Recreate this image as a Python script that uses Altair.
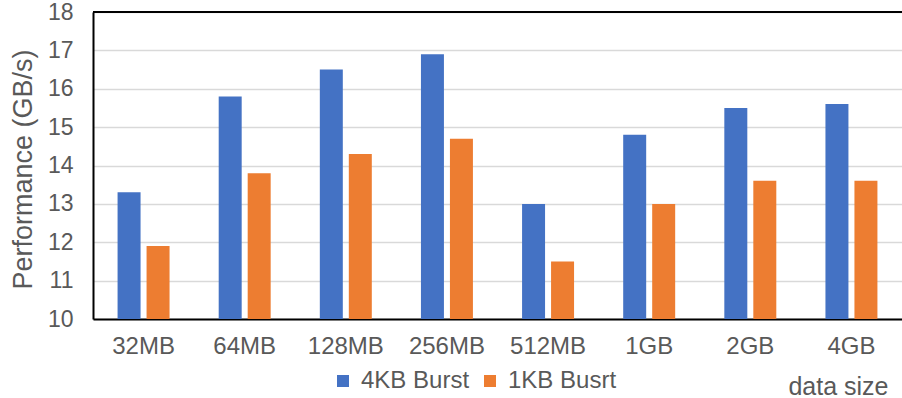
import altair as alt
import pandas as pd

# Throughput per data size for the two burst lengths
sizes = ["32MB", "64MB", "128MB", "256MB", "512MB", "1GB", "2GB", "4GB"]
burst_4kb = [13.3, 15.8, 16.5, 16.9, 13.0, 14.8, 15.5, 15.6]
burst_1kb = [11.9, 13.8, 14.3, 14.7, 11.5, 13.0, 13.6, 13.6]
series = ["4KB Burst", "1KB Busrt"]
colors = ["#4472C4", "#ED7D31"]
y_domain = [10, 18]

rows = []
for s, a, b in zip(sizes, burst_4kb, burst_1kb):
    rows.append({"size": s, "series": series[0], "value": a, "base": y_domain[0]})
    rows.append({"size": s, "series": series[1], "value": b, "base": y_domain[0]})
df = pd.DataFrame(rows)

FONT = "Liberation Sans"
GREY = "#595959"
y_scale = alt.Scale(domain=y_domain, nice=False, zero=False)

bars = alt.Chart(df).mark_bar().encode(
    x=alt.X(
        "size:N",
        sort=sizes,
        scale=alt.Scale(paddingInner=0.486, paddingOuter=0.243),
        axis=alt.Axis(
            title="data size",
            titleX=795,
            titleY=75,
            titleAlign="right",
            titleBaseline="alphabetic",
            titleFontSize=25,
            titleFontWeight="normal",
            titleColor=GREY,
            labelAngle=0,
            labelFontSize=24,
            labelColor=GREY,
            labelPadding=15,
            labelOverlap=False,
            ticks=False,
            domainColor="black",
            domainWidth=2,
        ),
    ),
    xOffset=alt.XOffset(
        "series:N",
        sort=series,
        scale=alt.Scale(paddingInner=0.207, paddingOuter=0),
    ),
    y=alt.Y(
        "value:Q",
        scale=y_scale,
        axis=alt.Axis(
            title="Performance (GB/s)",
            titleAngle=-90,
            titleX=-62,
            titleY=157,
            titleAlign="center",
            titleBaseline="alphabetic",
            titleFontSize=27,
            titleFontWeight="normal",
            titleColor=GREY,
            values=list(range(y_domain[0], y_domain[1] + 1)),
            labelFontSize=23,
            labelColor=GREY,
            labelPadding=20,
            labelOverlap=False,
            ticks=False,
            grid=True,
            gridColor="#D9D9D9",
            gridWidth=1.5,
            domainColor="black",
            domainWidth=2,
        ),
    ),
    y2="base:Q",
    color=alt.Color(
        "series:N",
        sort=series,
        scale=alt.Scale(domain=series, range=colors),
        legend=alt.Legend(
            title=None,
            orient="none",
            legendX=238,
            legendY=357,
            direction="horizontal",
            symbolType="square",
            symbolSize=144,
            symbolStrokeWidth=0,
            labelFontSize=24,
            labelColor=GREY,
            labelOffset=6,
            columnPadding=8,
        ),
    ),
)

# Frame line along the top edge of the plot area
top_line = alt.Chart(pd.DataFrame({"edge": ["top"]})).mark_rule(
    color="black", strokeWidth=2
).encode(y=alt.value(0))

chart = (
    alt.layer(bars, top_line)
    .properties(
        width=809,
        height=307,
        padding={"left": 93, "top": 12, "right": 0, "bottom": 79},
        autosize=alt.AutoSizeParams(type="none"),
    )
    .configure(font=FONT)
    .configure_view(stroke=None)
)

chart.save("out.html", embed_options={"renderer": "svg", "actions": False})
